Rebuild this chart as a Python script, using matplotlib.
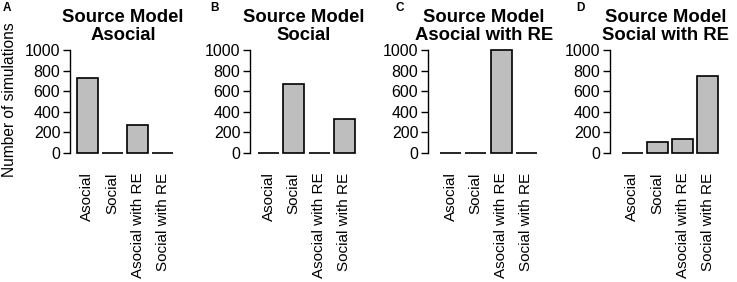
import matplotlib
matplotlib.use("Agg")
import matplotlib.pyplot as plt

categories = ["Asocial", "Social", "Asocial with RE", "Social with RE"]
panel_letters = ["A", "B", "C", "D"]
panel_titles = ["Source Model\nAsocial", "Source Model\nSocial",
                "Source Model\nAsocial with RE", "Source Model\nSocial with RE"]
counts_asocial = [730, 0, 270, 0]
counts_social = [0, 670, 0, 330]
counts_asocial_re = [0, 0, 1000, 0]
counts_social_re = [0, 110, 140, 750]
yticks = [0, 200, 400, 600, 800, 1000]
ylabel = "Number of simulations"

all_counts = [counts_asocial, counts_social, counts_asocial_re, counts_social_re]

plt.rcParams['font.family'] = ['Liberation Sans', 'DejaVu Sans']

W, H = 737, 282
fig = plt.figure(figsize=(W / 100, H / 100), dpi=100)

axis_px = [70, 250, 428, 610]
bar_start_px = [77, 258, 440, 622]
bar_end_px = [173, 355, 537, 718]
letter_px = [3, 210, 395, 576]

y0_px, y1000_px = 153, 50
unit_y = (y0_px - y1000_px) / 1000.0
ylo, yhi = -40, 1040
ax_bottom_px = y0_px + (0 - ylo) * unit_y
ax_top_px = y1000_px - (yhi - 1000) * unit_y

bar_lefts = [0.2 + 1.2 * i for i in range(len(categories))]
centers = [l + 0.5 for l in bar_lefts]

for i in range(4):
    unit = (bar_end_px[i] - bar_start_px[i]) / 4.6
    xl = 0.2 - (bar_start_px[i] - axis_px[i]) / unit
    xr = 4.95
    left = axis_px[i] / W
    width = (xr - xl) * unit / W
    bottom = 1 - ax_bottom_px / H
    height = (ax_bottom_px - ax_top_px) / H
    ax = fig.add_axes([left, bottom, width, height])
    ax.bar(centers, all_counts[i], width=1.0, color="#bebebe",
           edgecolor="black", linewidth=1.2)
    ax.set_xlim(xl, xr)
    ax.set_ylim(ylo, yhi)
    for s in ["top", "right", "bottom"]:
        ax.spines[s].set_visible(False)
    ax.spines["left"].set_bounds(0, 1000)
    ax.spines["left"].set_linewidth(1.0)
    ax.set_yticks(yticks)
    ax.set_yticklabels([str(v) for v in yticks], fontsize=11.5)
    ax.tick_params(axis="y", length=5, width=1.0, pad=2)
    ax.set_xticks(centers)
    ax.set_xticklabels(categories, rotation=90, fontsize=11, va="top")
    ax.tick_params(axis="x", length=0, pad=11)
    ax.set_title(panel_titles[i], fontsize=13.3, fontweight="bold", pad=4,
                 linespacing=1.12)
    fig.text(letter_px[i] / W, 1 - 8 / H, panel_letters[i], fontsize=8.5,
             fontweight="bold", ha="left", va="center")

fig.text(10 / W, 1 - 100 / H, ylabel, rotation=90, fontsize=11.2,
         ha="center", va="center")

fig.savefig("out.png", dpi=100)
